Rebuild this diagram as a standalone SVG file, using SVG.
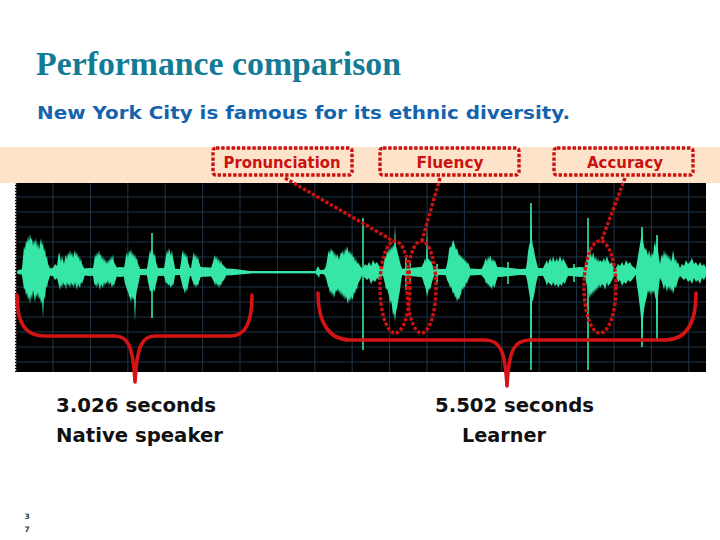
<svg xmlns="http://www.w3.org/2000/svg" width="720" height="540" viewBox="0 0 720 540">
<style>
.wave{fill:#35e6a7;stroke:none}
.spike{stroke:#35e6a7;stroke-width:1.6;fill:none}
.grid{stroke:#1f3448;stroke-width:1;fill:none}
.dot{fill:none;stroke:#cc1111;stroke-width:3.4;stroke-dasharray:3.4 1.8}
.brace{fill:none;stroke:#d41414;stroke-width:3.6;stroke-linecap:round;stroke-linejoin:round}
.lbl{font-family:"DejaVu Sans","Verdana",sans-serif;font-weight:bold;font-size:16px;fill:#cc1111;text-anchor:middle}
.cap{font-family:"DejaVu Sans","Verdana",sans-serif;font-weight:bold;font-size:20px;fill:#111111}
</style>
<rect x="0" y="0" width="720" height="540" fill="#ffffff"/>
<text x="36" y="75" font-family="'Liberation Serif','Times New Roman',serif" font-weight="bold" font-size="34" fill="#137b95" textLength="365" lengthAdjust="spacingAndGlyphs">Performance comparison</text>
<text x="37" y="119" font-family="'DejaVu Sans','Verdana',sans-serif" font-weight="bold" font-size="18" fill="#1463ad" textLength="533" lengthAdjust="spacingAndGlyphs">New York City is famous for its ethnic diversity.</text>
<rect x="0" y="147" width="720" height="36" fill="#fce3c9"/>
<g id="waveform-panel">
<rect x="15" y="183" width="691" height="189" fill="#000000"/>
<line x1="15.5" y1="183" x2="15.5" y2="372" stroke="#d9d2a4" stroke-width="1.5" stroke-dasharray="2 1"/>
<path class="grid" d="M53,183V372M90.4,183V372M127.8,183V372M165.2,183V372M202.6,183V372M240,183V372M277.4,183V372M314.8,183V372M352.2,183V372M389.6,183V372M427,183V372M464.4,183V372M501.8,183V372M539.2,183V372M576.6,183V372M614,183V372M651.4,183V372M688.8,183V372M16,197H706M16,212H706M16,227H706M16,242H706M16,257H706M16,287H706M16,302H706M16,317H706M16,332H706M16,347H706M16,362H706"/>
<g id="wave">
<rect class="wave" x="17" y="271" width="689" height="2.4"/>
<path class="wave" d="M18,270L30,268L45,269L60,267L75,269L90,268L105,269L120,267L140,269L160,268L180,269L200,267L220,268L235,269L250,271L250,273.5L235,275L220,276L200,277L180,275L160,276L140,275L120,277L105,275L90,276L75,275L60,277L45,275L30,276L18,274Z"/>
<path class="wave" d="M320,270L340,268L360,269L380,268L400,269L420,267L440,269L460,268L480,269L500,267L520,269L540,268L560,269L580,267L600,269L620,268L640,269L660,268L680,269L706,268L706,276L680,275L660,277L640,275L620,276L600,275L580,277L560,275L540,276L520,275L500,277L480,275L460,276L440,275L420,277L400,275L380,276L360,275L340,276L320,274Z"/>
<path class="wave" d="M22,268L23,258L24,246L25,250L26,240L27,244L28,236L29,242L30,234L31,240L32,238L33,246L34,240L35,244L36,238L37,248L38,242L39,250L40,244L41,238L42,246L43,242L44,252L45,248L46,258L47,256L48,264L50,268L50,276L48,282L47,288L46,286L45,300L44,296L43,318L42,300L41,304L40,296L39,300L38,292L37,298L36,294L35,302L34,296L33,290L32,300L31,294L30,304L29,296L28,300L27,292L26,296L25,288L24,290L23,282L22,276Z"/>
<path class="wave" d="M53,268L55,264L57,266L58,258L59,252L60,256L61,262L62,256L63,260L64,264L65,258L66,254L67,260L68,252L69,256L70,250L71,256L72,252L73,258L74,254L75,250L76,256L77,252L78,258L79,256L80,262L81,258L82,264L84,268L85,270L85,274L84,278L82,284L81,282L80,288L79,286L78,284L77,290L76,286L75,282L74,288L73,284L72,286L71,282L70,288L69,284L68,286L67,282L66,290L65,284L64,286L63,282L62,288L61,284L60,290L59,286L58,282L57,278L55,280L53,276Z"/>
<path class="wave" d="M93,268L94,262L95,254L96,258L97,252L98,256L99,250L100,256L101,254L102,260L103,256L104,262L105,258L106,264L107,260L108,264L109,258L110,262L111,256L112,260L113,254L114,262L115,264L117,268L117,276L115,282L114,286L113,284L112,288L111,284L110,282L109,286L108,280L107,284L106,282L105,286L104,282L103,288L102,286L101,284L100,290L99,286L98,282L97,288L96,284L95,286L94,282L93,276Z"/>
<path class="wave" d="M124,268L125,262L126,256L127,252L128,258L129,250L130,254L131,249L132,256L133,252L134,258L135,254L136,260L137,258L138,264L140,268L140,276L138,286L137,290L136,296L135,322L134,298L133,300L132,296L131,302L130,298L129,296L128,292L127,290L126,286L125,284L124,278Z"/>
<path class="wave" d="M147,268L148,262L149,256L150,250L151,254L152,248L153,252L154,256L155,254L156,262L158,268L158,276L156,284L155,290L154,292L153,288L152,294L151,290L150,292L149,286L148,282L147,276Z"/>
<path class="wave" d="M164,268L165,262L166,256L167,250L168,254L169,248L170,252L171,256L172,250L173,258L174,262L175,268L175,276L174,282L173,286L172,284L171,288L170,286L169,284L168,286L167,282L166,284L165,280L164,276Z"/>
<path class="wave" d="M180,268L181,262L182,254L183,250L184,256L185,252L186,258L187,254L188,262L190,268L190,276L188,286L187,292L186,288L185,294L184,290L183,288L182,284L181,280L180,276Z"/>
<path class="wave" d="M191,268L192,262L193,256L194,252L195,258L196,254L197,260L198,256L199,262L201,268L201,276L199,282L198,286L197,284L196,288L195,284L194,286L193,282L192,280L191,276Z"/>
<path class="wave" d="M211,268L213,262L214,258L215,255L216,260L217,256L218,262L219,258L220,264L221,260L222,264L224,266L226,268L226,276L224,280L222,282L221,286L220,284L219,288L218,284L217,286L216,282L215,286L214,282L213,280L211,276Z"/>
<path class="wave" d="M316,270L318,266L319,268L320,270L320,274L319,278L318,276L316,274Z"/>
<path class="wave" d="M324,270L326,266L327,260L328,254L329,250L330,254L331,248L332,252L333,250L334,256L335,252L336,258L337,254L338,256L339,260L340,256L341,252L342,254L343,250L344,256L345,248L346,252L347,246L348,250L349,254L350,250L351,256L352,252L353,258L354,256L355,262L356,258L357,264L358,262L360,266L362,268L362,276L360,280L358,284L357,290L356,288L355,294L354,292L353,298L352,300L351,296L350,302L349,298L348,304L347,300L346,296L345,300L344,294L343,298L342,292L341,296L340,290L339,294L338,288L337,292L336,290L335,294L334,298L333,292L332,296L331,290L330,294L329,288L328,286L327,282L326,278L324,274Z"/>
<path class="wave" d="M363,268L365,264L367,266L369,262L371,266L373,260L375,264L377,262L379,266L382,268L382,276L379,280L377,278L375,282L373,280L371,284L369,278L367,280L365,278L363,276Z"/>
<path class="wave" d="M383,268L384,262L385,256L386,258L387,250L388,254L389,248L390,252L391,246L392,250L393,244L394,248L395,225L396,246L397,250L398,254L399,258L400,262L401,266L402,268L402,276L401,282L400,290L399,296L398,302L397,308L396,312L395,322L394,312L393,316L392,306L391,300L390,304L389,296L388,292L387,288L386,290L385,284L384,280L383,276Z"/>
<path class="wave" d="M421,268L423,264L424,262L425,258L426,262L427,223L428,260L429,258L430,262L431,260L432,264L434,268L434,276L432,282L431,286L430,290L429,288L428,292L427,297L426,290L425,286L424,284L423,280L421,276Z"/>
<path class="wave" d="M446,268L447,264L448,258L449,250L450,246L451,248L452,244L453,240L454,242L455,246L456,250L457,248L458,252L459,256L460,254L461,258L462,256L463,260L464,258L465,262L466,260L467,264L468,262L470,268L470,276L468,280L467,284L466,282L465,288L464,286L463,290L462,288L461,294L460,296L459,300L458,298L457,302L456,296L455,298L454,292L453,294L452,290L451,286L450,288L449,284L448,282L447,280L446,276Z"/>
<path class="wave" d="M482,268L484,264L485,260L486,258L487,262L488,256L489,260L490,255L491,258L492,262L493,258L494,262L495,260L496,264L498,268L498,276L496,282L495,286L494,288L493,284L492,290L491,286L490,288L489,284L488,286L487,282L486,284L485,280L484,278L482,276Z"/>
<path class="wave" d="M526,268L527,262L528,252L529,246L530,242L531,203L532,240L533,246L534,250L535,256L536,260L538,268L538,276L536,284L535,290L534,296L533,300L532,302L531,370L530,298L529,292L528,286L527,280L526,276Z"/>
<path class="wave" d="M543,268L545,264L547,260L548,264L550,258L552,262L553,256L555,262L557,258L558,262L560,256L562,262L563,258L565,262L566,264L568,268L568,276L566,280L565,284L563,282L562,286L560,284L558,288L557,284L555,286L553,282L552,286L550,284L548,282L547,286L545,280L543,276Z"/>
<path class="wave" d="M584,268L586,262L587,256L588,250L589,252L590,248L591,254L592,258L593,252L594,256L595,260L596,256L597,262L598,258L599,262L600,260L602,262L604,258L605,262L607,256L608,260L610,264L612,262L614,268L614,276L612,280L610,284L608,286L607,282L605,290L604,286L602,284L600,288L599,284L598,290L597,286L596,292L595,288L594,294L593,290L592,296L591,292L590,298L589,294L588,290L587,286L586,282L584,276Z"/>
<path class="wave" d="M616,268L618,264L620,266L622,262L624,266L626,260L628,264L630,262L632,266L635,268L635,276L632,280L630,282L628,280L626,284L624,282L622,286L620,280L618,282L616,276Z"/>
<path class="wave" d="M636,268L637,262L638,256L639,250L640,244L641,238L642,227L643,240L644,246L645,250L646,248L647,252L648,256L649,250L650,254L651,258L652,252L653,256L654,246L655,242L656,248L657,235L658,250L659,258L660,264L661,258L662,254L663,258L664,250L665,256L666,252L667,258L668,254L669,260L670,256L671,262L672,258L673,250L674,256L675,262L676,258L677,264L678,262L680,268L680,276L678,280L677,284L676,288L675,286L674,290L673,294L672,288L671,292L670,286L669,290L668,286L667,292L666,288L665,284L664,290L663,286L662,282L661,280L660,278L659,286L658,296L657,340L656,300L655,296L654,290L653,294L652,290L651,296L650,290L649,294L648,290L647,296L646,300L645,304L644,310L643,320L642,347L641,318L640,308L639,300L638,292L637,286L636,278Z"/>
<path class="wave" d="M680,268L682,264L684,266L686,260L688,264L690,262L692,258L694,264L696,262L698,266L700,262L702,266L704,264L706,268L706,276L704,280L702,278L700,284L698,280L696,282L694,278L692,284L690,280L688,282L686,278L684,280L682,278L680,276Z"/>
<path class="spike" d="M152,233V318M363,218V350M406,258V290M410,262V284M531,203V370M588,218V370M642,227V347M657,235V340M437,264V282M508,262V284M574,264V282"/>
</g>
</g>
<g id="brace-native"><path class="brace" d="M17,295C17,322 24,336 45,336L115,336C128,336 133,346 135,382C137,346 142,336 155,336L230,336C245,336 252,324 252,295"/></g>
<g id="brace-learner"><path class="brace" d="M318,293C318,324 330,340 350,340L485,340C500,340 505,350 507,386C509,350 514,340 530,340L665,340C685,340 696,326 696,293"/></g>
<g id="highlights">
<ellipse class="dot" cx="395" cy="287" rx="15" ry="46"/>
<ellipse class="dot" cx="421.5" cy="287" rx="14.5" ry="46"/>
<ellipse class="dot" cx="600" cy="287" rx="16" ry="46"/>
</g>
<g id="connectors">
<path class="dot" d="M285,178L395,242"/>
<path class="dot" d="M440,178L421.5,242"/>
<path class="dot" d="M625,178L601,242"/>
</g>
<g id="label-pronunciation">
<rect class="dot" x="213" y="148" width="139" height="27" rx="3"/>
<text class="lbl" x="282" y="168" textLength="117" lengthAdjust="spacingAndGlyphs">Pronunciation</text>
</g>
<g id="label-fluency">
<rect class="dot" x="380" y="148" width="139" height="27" rx="3"/>
<text class="lbl" x="450" y="168" textLength="67" lengthAdjust="spacingAndGlyphs">Fluency</text>
</g>
<g id="label-accuracy">
<rect class="dot" x="554" y="148" width="139" height="27" rx="3"/>
<text class="lbl" x="625" y="168" textLength="76" lengthAdjust="spacingAndGlyphs">Accuracy</text>
</g>
<g id="native">
<text class="cap" x="56" y="412" textLength="160" lengthAdjust="spacingAndGlyphs">3.026 seconds</text>
<text class="cap" x="56" y="442" textLength="167" lengthAdjust="spacingAndGlyphs">Native speaker</text>
</g>
<g id="learner">
<text class="cap" x="435" y="412" textLength="159" lengthAdjust="spacingAndGlyphs">5.502 seconds</text>
<text class="cap" x="462" y="442" textLength="84" lengthAdjust="spacingAndGlyphs">Learner</text>
</g>
<g id="page-number" font-family="'DejaVu Sans',sans-serif" font-weight="bold" font-size="7.5" fill="#333d47" text-anchor="middle">
<text x="27" y="519">3</text>
<text x="27" y="532">7</text>
</g>
</svg>
